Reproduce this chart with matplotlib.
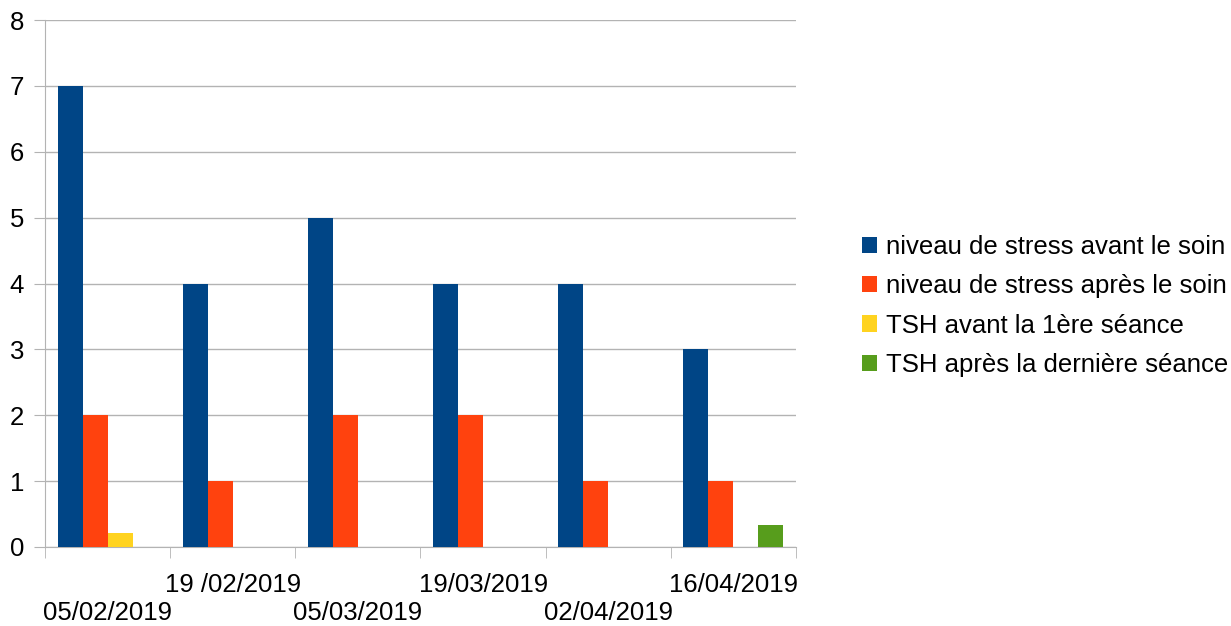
import matplotlib
matplotlib.use("Agg")
import matplotlib.pyplot as plt
import numpy as np

plt.rcParams['font.family'] = ['Liberation Sans', 'DejaVu Sans']

dates = ["05/02/2019", "19 /02/2019", "05/03/2019", "19/03/2019", "02/04/2019", "16/04/2019"]
stress_avant = [7, 4, 5, 4, 4, 3]
stress_apres = [2, 1, 2, 2, 1, 1]
tsh_avant = [0.22, 0, 0, 0, 0, 0]
tsh_apres = [0, 0, 0, 0, 0, 0.33]
series_names = ["niveau de stress avant le soin", "niveau de stress après le soin",
                "TSH avant la 1ère séance", "TSH après la dernière séance"]
colors = ["#004586", "#ff420e", "#ffd320", "#579d1c"]

fig = plt.figure(figsize=(12.31, 6.26), dpi=100)
ax = fig.add_axes([45/1231, 1-547/626, (796-45)/1231, (547-20)/626])

x = np.arange(len(dates))
w = 0.2
handles = []
for i, (vals, c, name) in enumerate(zip([stress_avant, stress_apres, tsh_avant, tsh_apres], colors, series_names)):
    h = ax.bar(x + (i - 1.5) * w, vals, width=w, color=c, label=name, zorder=3)
    handles.append(h)

ax.set_xlim(-0.5, len(dates) - 0.5)
ax.set_ylim(0, 8)
ax.set_yticks(range(0, 9))
ax.yaxis.grid(True, color="#b3b3b3", linewidth=1, zorder=0)
for s in ["top", "right"]:
    ax.spines[s].set_visible(False)
for s in ["left", "bottom"]:
    ax.spines[s].set_color("#b3b3b3")
ax.tick_params(axis='y', length=8, color="#b3b3b3", labelsize=18.5, pad=7)

ax.set_xticks(x)
ax.set_xticklabels([("\n" + d) if k % 2 == 0 else d for k, d in enumerate(dates)],
                   linespacing=1.2)
ax.tick_params(axis='x', which='major', length=0, labelsize=18.5, pad=19)
ax.set_xticks(np.arange(-0.5, len(dates)), minor=True)
ax.tick_params(axis='x', which='minor', length=8, color="#b3b3b3")

fig.legend(handles=handles, labels=series_names, loc='center left',
           bbox_to_anchor=(862/1231, 1-306/626), frameon=False, fontsize=18.5,
           borderpad=0, borderaxespad=0,
           handlelength=0.6, handleheight=0.6, handletextpad=0.35, labelspacing=0.6)

fig.savefig("out.png", dpi=100)
